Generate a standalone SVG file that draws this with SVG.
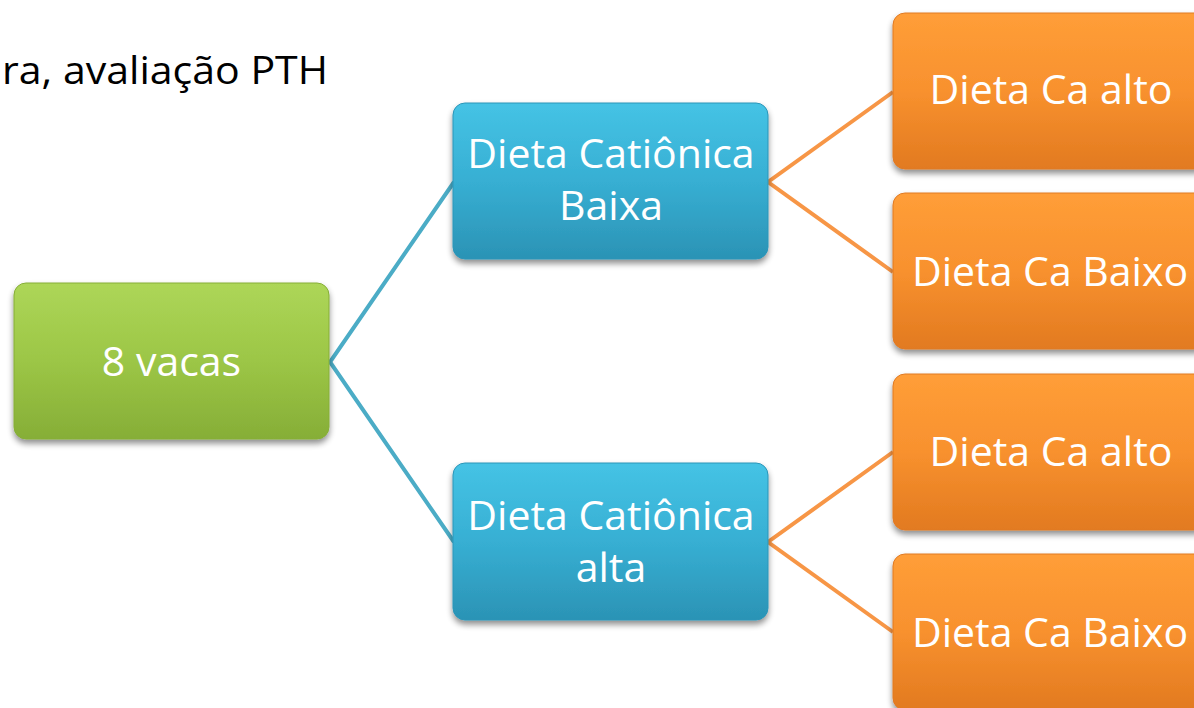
<svg xmlns="http://www.w3.org/2000/svg" width="1194" height="708" viewBox="0 0 1194 708">
  <defs>
    <linearGradient id="gGreen" x1="0" y1="0" x2="0" y2="1">
      <stop offset="0" stop-color="#ADD658"/>
      <stop offset="0.5" stop-color="#9CC646"/>
      <stop offset="1" stop-color="#86AE37"/>
    </linearGradient>
    <linearGradient id="gBlue" x1="0" y1="0" x2="0" y2="1">
      <stop offset="0" stop-color="#45C3E5"/>
      <stop offset="0.5" stop-color="#37AFD3"/>
      <stop offset="1" stop-color="#2B93B5"/>
    </linearGradient>
    <linearGradient id="gOrange" x1="0" y1="0" x2="0" y2="1">
      <stop offset="0" stop-color="#FF9E38"/>
      <stop offset="0.5" stop-color="#F8912E"/>
      <stop offset="1" stop-color="#E27A20"/>
    </linearGradient>
    <filter id="shadow" x="-10%" y="-10%" width="120%" height="130%">
      <feGaussianBlur in="SourceAlpha" stdDeviation="3"/>
      <feOffset dx="0" dy="4" result="b"/>
      <feComponentTransfer><feFuncA type="linear" slope="0.45"/></feComponentTransfer>
      <feMerge><feMergeNode/><feMergeNode in="SourceGraphic"/></feMerge>
    </filter>
  </defs>
  <style>
    .label { font-family: "Open Sans", "Liberation Sans", sans-serif; font-size: 41px; fill: #FFFFFF; text-anchor: middle; }
    .title { font-family: "Open Sans", "Liberation Sans", sans-serif; font-size: 39px; fill: #000000; }
    .green { fill: url(#gGreen); stroke: #86AE37; stroke-width: 1; filter: url(#shadow); }
    .blue { fill: url(#gBlue); stroke: #2C95B8; stroke-width: 1; filter: url(#shadow); }
    .orange { fill: url(#gOrange); stroke: #E07A22; stroke-width: 1; filter: url(#shadow); }
    .c-blue { stroke: #4BACC6; stroke-width: 4; fill: none; stroke-linejoin: miter; }
    .c-orange { stroke: #F79646; stroke-width: 4; fill: none; stroke-linejoin: miter; }
  </style>
  <rect width="1194" height="708" fill="#FFFFFF"/>

  <text class="title" x="2" y="84" textLength="326" lengthAdjust="spacingAndGlyphs">ra, avaliação PTH</text>

  <g id="connectors">
    <polyline class="c-blue" points="454,182 330,362 454,542"/>
    <polyline class="c-orange" points="893,92 768,182 893,272"/>
    <polyline class="c-orange" points="893,452 768,542 893,632"/>
  </g>

  <g id="node-vacas">
    <rect class="green" x="14" y="283" width="315" height="156" rx="12"/>
    <text class="label" x="171.5" y="376">8 vacas</text>
  </g>

  <g id="node-cat-baixa">
    <rect class="blue" x="453" y="103" width="315" height="156" rx="12"/>
    <text class="label" x="611" y="168">Dieta Catiônica</text>
    <text class="label" x="611" y="220">Baixa</text>
  </g>

  <g id="node-cat-alta">
    <rect class="blue" x="453" y="463" width="315" height="157" rx="12"/>
    <text class="label" x="611" y="530">Dieta Catiônica</text>
    <text class="label" x="611" y="582">alta</text>
  </g>

  <g id="node-ca-alto-1">
    <rect class="orange" x="893" y="13" width="315" height="156" rx="12"/>
    <text class="label" x="1051" y="104">Dieta Ca alto</text>
  </g>

  <g id="node-ca-baixo-1">
    <rect class="orange" x="893" y="193" width="315" height="156" rx="12"/>
    <text class="label" x="1050" y="286">Dieta Ca Baixo</text>
  </g>

  <g id="node-ca-alto-2">
    <rect class="orange" x="893" y="374" width="315" height="156" rx="12"/>
    <text class="label" x="1051" y="466">Dieta Ca alto</text>
  </g>

  <g id="node-ca-baixo-2">
    <rect class="orange" x="893" y="554" width="315" height="156" rx="12"/>
    <text class="label" x="1050" y="647">Dieta Ca Baixo</text>
  </g>
</svg>
